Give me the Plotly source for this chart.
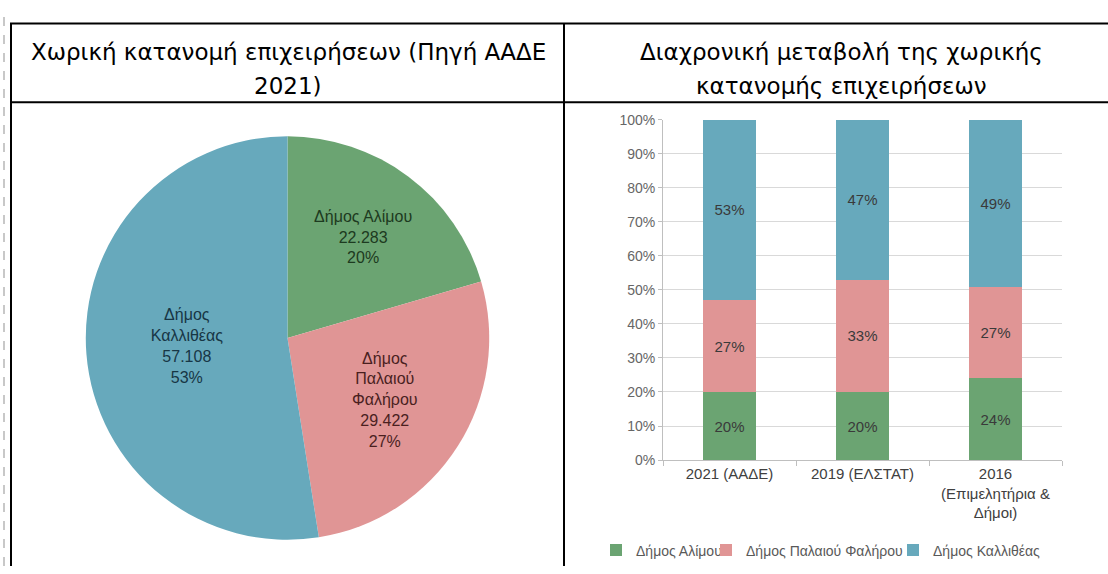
import plotly.graph_objects as go

W, H = 1108, 574

# ---------------- data ----------------
pie_names = ["Δήμος Αλίμου", "Δήμος Παλαιού Φαλήρου", "Δήμος Καλλιθέας"]
pie_name_wrapped = ["Δήμος Αλίμου", "Δήμος<br>Παλαιού<br>Φαλήρου", "Δήμος<br>Καλλιθέας"]
pie_values = [22283, 29422, 57108]
pie_pct_labels = [20, 27, 53]

bar_categories = ["2021 (ΑΑΔΕ)", "2019 (ΕΛΣΤΑΤ)", "2016<br>(Επιμελητήρια &<br>Δήμοι)"]
series_names = ["Δήμος Αλίμου", "Δήμος Παλαιού Φαλήρου", "Δήμος Καλλιθέας"]
alimou = [20, 20, 24]
faliro = [27, 33, 27]
kallithea = [53, 47, 49]

header_left = ["Χωρική κατανομή επιχειρήσεων (Πηγή ΑΑΔΕ", "2021)"]
header_right = ["Διαχρονική μεταβολή της χωρικής", "κατανομής επιχειρήσεων"]

# ---------------- styles ----------------
colors = ["#6ba472", "#e09595", "#67a9bc"]
text_dark = ["#1d3a20", "#4a1f1f", "#173645"]
legend_text_x = [638, 748, 935]


def px(x):
    return x / W


def py(y):
    return 1 - y / H


fig = go.Figure()


def fmt_num(v):
    return f"{v:,}".replace(",", ".")


pie_text = [f"{n}<br>{fmt_num(v)}<br>{p}%" for n, v, p in zip(pie_name_wrapped, pie_values, pie_pct_labels)]

fig.add_trace(go.Pie(
    labels=pie_names,
    values=pie_values,
    text=pie_text,
    textinfo="text",
    textposition="inside",
    insidetextorientation="horizontal",
    sort=False,
    direction="clockwise",
    rotation=0,
    marker=dict(colors=colors, line=dict(width=0)),
    textfont=dict(family="Liberation Sans, Arial, sans-serif", size=16, color=text_dark),
    domain=dict(x=[px(80), px(495)], y=[py(547), py(132)]),
    showlegend=False,
    hoverinfo="label+value+percent",
))

legend_ids = ["legend", "legend2", "legend3"]
for name, vals, col, lg in zip(series_names, [alimou, faliro, kallithea], colors, legend_ids):
    fig.add_trace(go.Bar(
        x=bar_categories,
        y=vals,
        name=name,
        legend=lg,
        marker=dict(color=col, line=dict(width=0)),
        text=[f"{v}%" for v in vals],
        textposition="inside",
        insidetextanchor="middle",
        textfont=dict(family="Liberation Sans, Arial, sans-serif", size=15, color="#3a3a3a"),
        xaxis="x", yaxis="y",
    ))

shapes = []
line_k = dict(color="black", width=2)
shapes.append(dict(type="line", xref="paper", yref="paper", x0=px(4), x1=px(4), y0=0, y1=1,
                   line=dict(color="#c8c8c8", width=2, dash="dash")))
shapes.append(dict(type="line", xref="paper", yref="paper", x0=px(10), x1=1, y0=py(16), y1=py(16), line=line_k))
shapes.append(dict(type="line", xref="paper", yref="paper", x0=px(10), x1=1, y0=py(97), y1=py(97), line=line_k))
shapes.append(dict(type="line", xref="paper", yref="paper", x0=px(11), x1=px(11), y0=0, y1=py(16), line=line_k))
shapes.append(dict(type="line", xref="paper", yref="paper", x0=px(564), x1=px(564), y0=0, y1=py(16), line=line_k))

annotations = []
hfont = dict(family="DejaVu Sans, Verdana, sans-serif", size=23, color="black")
for i, t in enumerate(header_left):
    annotations.append(dict(text=t, x=px(288), y=py(45 + 35 * i), xref="paper", yref="paper",
                            showarrow=False, xanchor="center", yanchor="middle", font=hfont))
for i, t in enumerate(header_right):
    annotations.append(dict(text=t, x=px(841), y=py(45 + 35 * i), xref="paper", yref="paper",
                            showarrow=False, xanchor="center", yanchor="middle", font=hfont))

legend_common = dict(
    orientation="h", yanchor="middle", xanchor="left",
    font=dict(size=14, color="#595959"),
    itemwidth=30, bgcolor="rgba(0,0,0,0)", borderwidth=0,
)

fig.update_layout(
    width=W, height=H,
    margin=dict(l=0, r=0, t=0, b=0),
    paper_bgcolor="white",
    plot_bgcolor="white",
    barmode="stack",
    bargap=0.6,
    shapes=shapes,
    annotations=annotations,
    font=dict(family="Liberation Sans, Arial, sans-serif"),
    xaxis=dict(
        domain=[px(663), px(1062)],
        anchor="y",
        type="category",
        showline=True, linecolor="#bfbfbf", linewidth=1,
        ticks="outside", tickson="boundaries", ticklen=5, tickcolor="#bfbfbf",
        tickfont=dict(size=15, color="#404040"),
        showgrid=False,
    ),
    yaxis=dict(
        domain=[py(465), py(115)],
        anchor="x",
        range=[0, 100],
        dtick=10,
        ticksuffix="%",
        showline=True, linecolor="#bfbfbf", linewidth=1,
        ticks="outside", ticklen=4, tickcolor="#bfbfbf",
        showgrid=True, gridcolor="#d9d9d9", gridwidth=1,
        tickfont=dict(size=14, color="#666666"),
        zeroline=False,
    ),
    legend=dict(legend_common, x=px(legend_text_x[0] - 42), y=py(558)),
    legend2=dict(legend_common, x=px(legend_text_x[1] - 42), y=py(558)),
    legend3=dict(legend_common, x=px(legend_text_x[2] - 42), y=py(558)),
)

fig.write_html("out.html", post_script="document.body.style.margin='0px';",
               config={"displayModeBar": False})
